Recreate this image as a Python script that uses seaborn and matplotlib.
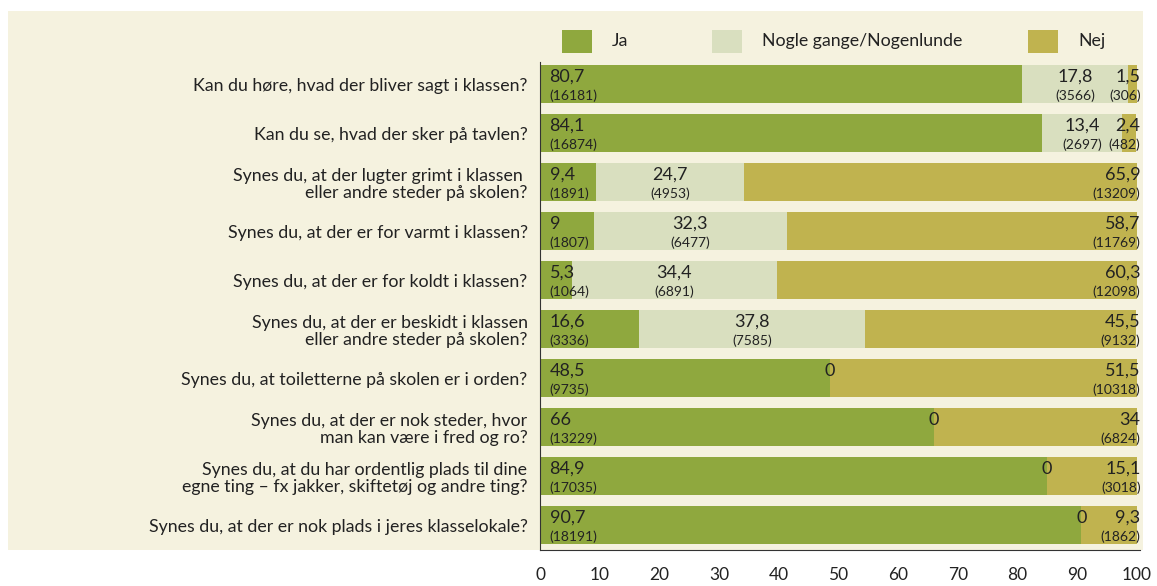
import numpy as np
import pandas as pd
import matplotlib
matplotlib.use("Agg")
import matplotlib.pyplot as plt
import seaborn as sns
from matplotlib.patches import Rectangle

# data
questions = [
    "Kan du høre, hvad der bliver sagt i klassen?",
    "Kan du se, hvad der sker på tavlen?",
    "Synes du, at der lugter grimt i klassen \neller andre steder på skolen?",
    "Synes du, at der er for varmt i klassen?",
    "Synes du, at der er for koldt i klassen?",
    "Synes du, at der er beskidt i klassen\neller andre steder på skolen?",
    "Synes du, at toiletterne på skolen er i orden?",
    "Synes du, at der er nok steder, hvor\nman kan være i fred og ro?",
    "Synes du, at du har ordentlig plads til dine\negne ting – fx jakker, skiftetøj og andre ting?",
    "Synes du, at der er nok plads i jeres klasselokale?",
]
ja = [80.7, 84.1, 9.4, 9, 5.3, 16.6, 48.5, 66, 84.9, 90.7]
nogle = [17.8, 13.4, 24.7, 32.3, 34.4, 37.8, 0, 0, 0, 0]
nej = [1.5, 2.4, 65.9, 58.7, 60.3, 45.5, 51.5, 34, 15.1, 9.3]
ja_n = [16181, 16874, 1891, 1807, 1064, 3336, 9735, 13229, 17035, 18191]
nogle_n = [3566, 2697, 4953, 6477, 6891, 7585, None, None, None, None]
nej_n = [306, 482, 13209, 11769, 12098, 9132, 10318, 6824, 3018, 1862]
legend_labels = ["Ja", "Nogle gange/Nogenlunde", "Nej"]

c_ja = "#8fa83e"
c_nogle = "#d9dfbf"
c_nej = "#c0b34f"
bg = "#f5f2df"
txt = "#222222"

df = pd.DataFrame({"q": questions, "ja": ja, "nogle": nogle, "nej": nej})
df["c1"] = df["ja"]
df["c2"] = df["ja"] + df["nogle"]
df["c3"] = df["c2"] + df["nej"]

sns.set_style("white")
plt.rcParams["font.family"] = ["Lato", "DejaVu Sans"]

W, H = 1157, 586
fig = plt.figure(figsize=(W / 100, H / 100), dpi=100, facecolor="white")
fig.patches.append(Rectangle((8 / W, 1 - 550 / H), 1135 / W, 539 / H,
                             transform=fig.transFigure, facecolor=bg, edgecolor="none", zorder=-5))
ax = fig.add_axes([540 / W, 1 - 550 / H, 600 / W, (550 - 62) / H])
ax.set_facecolor("none")

w = 0.78
for col, c in [("c3", c_nej), ("c2", c_nogle), ("c1", c_ja)]:
    sns.barplot(data=df, x=col, y="q", orient="h", color=c, width=w, saturation=1,
                linewidth=0, ax=ax)

def fmt(v):
    return ("%g" % v).replace(".", ",")

vy, ny = -0.15, 0.23
for i in range(len(questions)):
    # Ja
    ax.text(1.6, i + vy, fmt(ja[i]), ha="left", va="center", fontsize=13, color=txt)
    ax.text(1.6, i + ny, "(%d)" % ja_n[i], ha="left", va="center", fontsize=10, color=txt)
    # Nogle
    if nogle_n[i] is None:
        ax.text(ja[i], i + vy, "0", ha="center", va="center", fontsize=13, color=txt)
    else:
        xc = ja[i] + nogle[i] / 2
        ax.text(xc, i + vy, fmt(nogle[i]), ha="center", va="center", fontsize=13, color=txt)
        ax.text(xc, i + ny, "(%d)" % nogle_n[i], ha="center", va="center", fontsize=10, color=txt)
    # Nej
    ax.text(100.6, i + vy, fmt(nej[i]), ha="right", va="center", fontsize=13, color=txt)
    ax.text(100.6, i + ny, "(%d)" % nej_n[i], ha="right", va="center", fontsize=10, color=txt)

ax.set_xlim(0, 100.5)
ax.set_ylim(9.51, -0.45)
ax.set_xticks(np.arange(0, 101, 10))
ax.set_xlabel("")
ax.set_ylabel("")
for s in ["top", "right"]:
    ax.spines[s].set_visible(False)
ax.spines["left"].set_color("#333333")
ax.spines["bottom"].set_color("#333333")
ax.tick_params(axis="x", direction="out", length=7, width=0.8, color="#333333",
               pad=5, labelsize=12.5, labelcolor=txt)
ax.tick_params(axis="y", direction="out", length=2, width=0.8, color="#555555",
               pad=7, labelsize=12.8, labelcolor=txt)
for t in ax.get_yticklabels():
    t.set_multialignment("right")
    t.set_linespacing(1.1)

# legend squares and labels along the top
legend_cols = [c_ja, c_nogle, c_nej]
legend_x = [562, 712, 1028]
for lab, c, x0 in zip(legend_labels, legend_cols, legend_x):
    fig.patches.append(Rectangle((x0 / W, 1 - 53 / H), 30 / W, 23 / H,
                                 transform=fig.transFigure, facecolor=c, edgecolor="none"))
    fig.text((x0 + 50) / W, 1 - 41 / H, lab, ha="left", va="center", fontsize=12.8, color=txt)

fig.savefig("out.png", dpi=100, facecolor="white")
